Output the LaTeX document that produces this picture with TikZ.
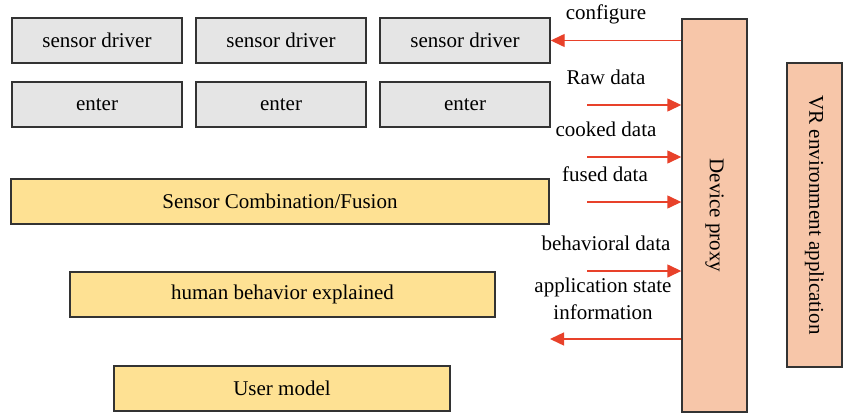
\documentclass[tikz,border=0pt]{standalone}
\usepackage{fontspec}
\setmainfont{Liberation Serif}
\usetikzlibrary{arrows.meta}
\definecolor{boxgray}{HTML}{E5E5E5}
\definecolor{boxyellow}{HTML}{FEE193}
\definecolor{boxsalmon}{HTML}{F7C6A9}
\definecolor{edge}{HTML}{333333}
\definecolor{flowred}{HTML}{E8412A}
\tikzset{
  blk/.style={draw=edge, line width=1.4pt, inner sep=0pt, font=\fontsize{21}{24}\selectfont},
  graybox/.style={blk, fill=boxgray, minimum width=170pt, minimum height=45pt},
  yellowbox/.style={blk, fill=boxyellow, minimum height=45pt},
  salmonbox/.style={blk, fill=boxsalmon},
  lbl/.style={inner sep=0pt, font=\fontsize{21}{27}\selectfont, align=center},
  flow/.style={draw=flowred, line width=1.4pt, -{Triangle[length=14pt,width=13pt]}}
}
\begin{document}
\begin{tikzpicture}[x=1pt,y=-1pt]
\useasboundingbox (0,0) rectangle (843,415);
% sensor drivers and input stages
\node[graybox] (sd1) at (97,40.5) {sensor driver};
\node[graybox] (sd2) at (281,40.5) {sensor driver};
\node[graybox] (sd3) at (465,40.5) {sensor driver};
\node[graybox] (en1) at (97,104.5) {enter};
\node[graybox] (en2) at (281,104.5) {enter};
\node[graybox] (en3) at (465,104.5) {enter};
% processing layers
\node[yellowbox, minimum width=538pt] (fus) at (280,201.5) {Sensor Combination/Fusion};
\node[yellowbox, minimum width=425pt] (hum) at (282.5,294.5) {human behavior explained};
\node[yellowbox, minimum width=336pt] (usr) at (282,388.5) {User model};
% proxy and application
\node[salmonbox, minimum width=65pt, minimum height=393pt] (dp) at (714.5,215.5)
  {\rotatebox{-90}{Device proxy}};
\node[salmonbox, minimum width=55pt, minimum height=304pt] (vr) at (814.5,215)
  {\rotatebox{-90}{VR environment application}};
% free ends of the data flows
\coordinate (raw) at (587,105);
\coordinate (cook) at (587,157);
\coordinate (fuse) at (587,202);
\coordinate (beh) at (587,271);
\coordinate (app) at (550,339);
% data flows
\draw[flow] (dp.west |- sd3.east) -- (sd3.east);
\draw[flow] (raw) -- (raw -| dp.west);
\draw[flow] (cook) -- (cook -| dp.west);
\draw[flow] (fuse) -- (fuse -| dp.west);
\draw[flow] (beh) -- (beh -| dp.west);
\draw[flow] (app -| dp.west) -- (app);
% flow labels
\node[lbl] (lconf) at (606,14) {configure};
\node[lbl] (lraw) at (606,77) {Raw data};
\node[lbl] (lcook) at (606,129) {cooked data};
\node[lbl] (lfuse) at (605,174) {fused data};
\node[lbl] (lbeh) at (606,243) {behavioral data};
\node[lbl] (lapp) at (603,298.5) {application state\\information};
\end{tikzpicture}
\end{document}
